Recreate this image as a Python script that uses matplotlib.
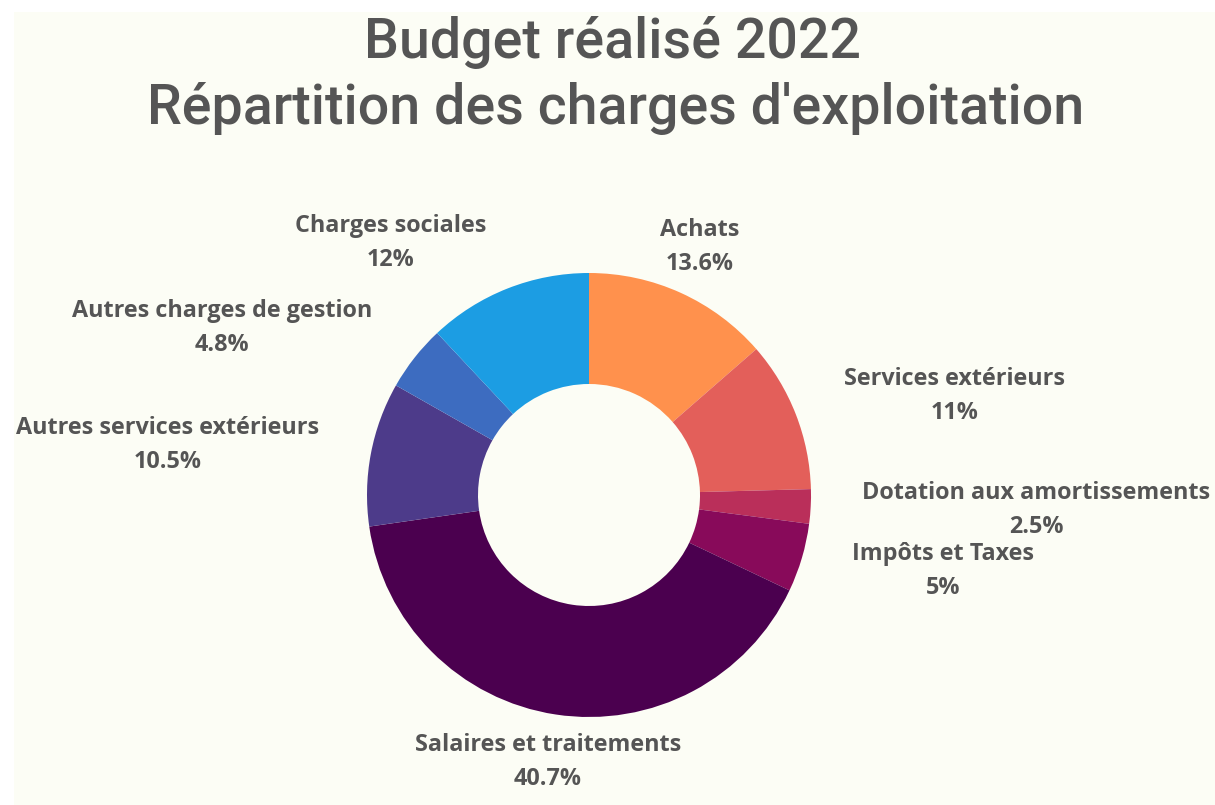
import matplotlib
matplotlib.use("Agg")
import matplotlib.pyplot as plt
from matplotlib.patches import Rectangle

# ---- data ----
categories = ["Achats", "Services extérieurs", "Dotation aux amortissements",
              "Impôts et Taxes", "Salaires et traitements",
              "Autres services extérieurs", "Autres charges de gestion",
              "Charges sociales"]
values = [13.6, 11, 2.5, 5, 40.7, 10.5, 4.8, 12]
value_labels = ["13.6%", "11%", "2.5%", "5%", "40.7%", "10.5%", "4.8%", "12%"]
colors = ["#FF914D", "#E35F5A", "#BA2F5A", "#880A5A", "#4B004F",
          "#4D3B8A", "#3D6CC0", "#1C9DE3"]

# ---- layout (pixel coordinates, y measured from top) ----
W, H = 1215, 805
center_px = (589, 495)
radius_px = 222
hole_frac = 0.5
label_pos = [(700, 247), (955, 396), (1036, 510), (943, 571),
             (548, 762), (168, 445), (222, 328), (391, 243)]
label_gap = 34
bg = "#FCFDF5"
txt = "#555555"

fig = plt.figure(figsize=(W / 100, H / 100), dpi=100)
fig.patch.set_facecolor("white")
ax = fig.add_axes([0, 0, 1, 1])
ax.set_axis_off()
ax.add_patch(Rectangle((14, 0), W - 14, H - 12, facecolor=bg, edgecolor="none", zorder=0))

ax.pie(values, colors=colors, startangle=90, counterclock=False,
       center=(center_px[0], H - center_px[1]), radius=radius_px,
       wedgeprops=dict(width=radius_px * (1 - hole_frac), edgecolor="none", linewidth=0),
       frame=True)
ax.set_xlim(0, W)
ax.set_ylim(0, H)
ax.set_aspect("equal")
ax.set_axis_off()

for (x, y), name, val in zip(label_pos, categories, value_labels):
    ax.text(x, H - (y - label_gap / 2), name, ha="center", va="center",
            fontsize=16.8, fontweight="bold", family="Open Sans", color=txt)
    ax.text(x, H - (y + label_gap / 2), val, ha="center", va="center",
            fontsize=16.8, fontweight="bold", family="Open Sans", color=txt)

ax.text(612, H - 42, "Budget réalisé 2022", ha="center", va="center",
        fontsize=40, fontweight="medium", family="Roboto", color=txt)
ax.text(616, H - 108, "Répartition des charges d'exploitation", ha="center", va="center",
        fontsize=40, fontweight="medium", family="Roboto", color=txt)

fig.savefig("out.png", dpi=100, facecolor=fig.get_facecolor())
